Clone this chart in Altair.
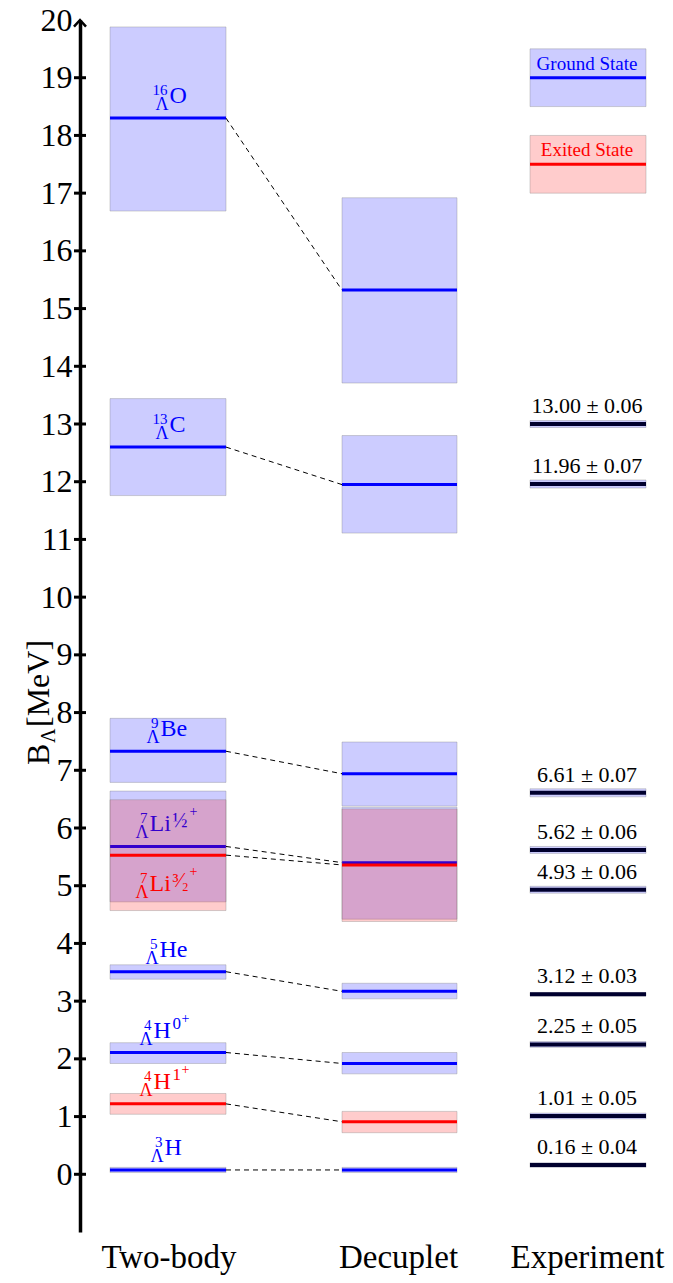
import altair as alt
import pandas as pd

# ---------------- data ----------------
isotopes = ["16O", "13C", "9Be", "7Li(1/2+)", "7Li(3/2+)", "5He", "4H(0+)", "4H(1+)", "3H"]
states = ["ground", "ground", "ground", "ground", "excited", "ground", "ground", "excited", "ground"]
mass_numbers = ["16", "13", "9", "7", "7", "5", "4", "4", "3"]
elements = ["O", "C", "Be", "Li", "Li", "He", "H", "H", "H"]
spins = ["", "", "", "½", "³⁄₂", "", "0", "1", ""]
parities = ["", "", "", "+", "+", "", "+", "+", ""]

two_body_B = [18.30, 12.60, 7.33, 5.68, 5.53, 3.51, 2.11, 1.22, 0.075]
two_body_lo = [16.69, 11.76, 6.79, 4.72, 4.57, 3.38, 1.92, 1.04, 0.03]
two_body_hi = [19.88, 13.44, 7.90, 6.64, 6.49, 3.63, 2.28, 1.40, 0.12]

decuplet_B = [15.32, 11.95, 6.94, 5.40, 5.36, 3.17, 1.92, 0.91, 0.075]
decuplet_lo = [13.71, 11.11, 6.38, 4.42, 4.38, 3.04, 1.74, 0.72, 0.03]
decuplet_hi = [16.92, 12.80, 7.49, 6.36, 6.33, 3.31, 2.11, 1.09, 0.12]

exp_B = [13.00, 11.96, 6.61, 5.62, 4.93, 3.12, 2.25, 1.01, 0.16]
exp_err = [0.06, 0.07, 0.07, 0.06, 0.06, 0.03, 0.05, 0.05, 0.04]

columns = ["Two-body", "Decuplet", "Experiment"]
y_ticks = list(range(0, 21))

legend_labels = ["Ground State", "Exited State"]
legend_states = ["ground", "excited"]
legend_B = [19.0, 17.5]
legend_half = [0.5, 0.5]

# ---------------- layout / style ----------------
FONT = "Liberation Serif"
BLUE, RED, NAVY = "#0000ff", "#ff0000", "#00002e"
COL = {"Two-body": (0.30, 1.46), "Decuplet": (2.62, 3.77), "Experiment": (4.50, 5.66)}
COL_LABEL_X = {"Two-body": 0.885, "Decuplet": 3.18, "Experiment": 5.07}
PX = 100.0  # pixels per x unit
label_shift_px = {"16O": 1, "13C": 1, "9Be": -8, "7Li(1/2+)": -19, "7Li(3/2+)": -19,
                  "5He": -9, "4H(0+)": -15, "4H(1+)": -15, "3H": -4}
elem_width_px = {"H": 18, "Li": 22}
label_below = {"7Li(3/2+)"}
# piece classes: font size, vertical offset from element baseline, alignment
PIECE = {
    "el": dict(fontSize=24, dy=0, align="left"),
    "mass": dict(fontSize=15, dy=-8, align="right"),
    "lam": dict(fontSize=18, dy=7, align="right"),
    "spin": dict(fontSize=17, dy=-9, align="left"),
    "frac": dict(fontSize=20, dy=-4, align="left"),
    "par": dict(fontSize=14, dy=-15, align="left"),
}

xs = alt.Scale(domain=[0, 5.85], nice=False, zero=False)
ys = alt.Scale(domain=[-1, 20], nice=False, zero=False)

expr = " : ".join([f"datum.value == {v} ? '{k}'" for k, v in COL_LABEL_X.items()]) + " : ''"
x_axis = alt.Axis(values=list(COL_LABEL_X.values()), labelExpr=expr, domain=False, ticks=False,
                  tickSize=0, labelPadding=35, labelBaseline="alphabetic", labelFontSize=33,
                  labelFont=FONT, labelColor="black", grid=False, title=None, labelFlush=False,
                  labelOverlap=False)
y_axis = alt.Axis(values=y_ticks, ticks=False, tickSize=0, labelPadding=8, labelFontSize=32,
                  labelFont=FONT, labelColor="black", domainColor="black", domainWidth=3.5,
                  grid=False, title=None, labelFlush=False, labelOverlap=False)


def X(f):
    return alt.X(f, type="quantitative", scale=xs, axis=x_axis)


def Y(f):
    return alt.Y(f, type="quantitative", scale=ys, axis=y_axis)


rows = []
for col, Bs, los, his in [("Two-body", two_body_B, two_body_lo, two_body_hi),
                          ("Decuplet", decuplet_B, decuplet_lo, decuplet_hi)]:
    for i, iso in enumerate(isotopes):
        rows.append(dict(column=col, isotope=iso, state=states[i], B=Bs[i], lo=los[i], hi=his[i],
                         x0=COL[col][0], x1=COL[col][1]))
levels = pd.DataFrame(rows)

# label pieces (superscript / subscript composition)
pieces = []
for i, iso in enumerate(isotopes):
    s = COL_LABEL_X["Two-body"] + label_shift_px[iso] / PX
    base = dict(isotope=iso, state=states[i], B=two_body_B[i], below=iso in label_below)
    pieces.append(dict(base, cls="mass", t=mass_numbers[i], lx=s - 2 / PX))
    pieces.append(dict(base, cls="lam", t="Λ", lx=s - 1 / PX))
    pieces.append(dict(base, cls="el", t=elements[i], lx=s))
    if spins[i]:
        w = elem_width_px.get(elements[i], 18)
        cls = "spin" if spins[i].isdigit() else "frac"
        pieces.append(dict(base, cls=cls, t=spins[i], lx=s + (w + 1) / PX))
        pw = 17 if cls == "frac" else 9
        pieces.append(dict(base, cls="par", t=parities[i], lx=s + (w + 1 + pw) / PX))
pieces = pd.DataFrame(pieces)

conn = pd.DataFrame(dict(isotope=isotopes, B1=two_body_B, B2=decuplet_B,
                         x0=COL["Two-body"][1], x1=COL["Decuplet"][0]))

exp = pd.DataFrame(dict(B=exp_B, err=exp_err))
exp["lo"] = exp["B"] - exp["err"]
exp["hi"] = exp["B"] + exp["err"]
exp["txt"] = [f"{b:.2f} ± {e:.2f}" for b, e in zip(exp_B, exp_err)]
exp["x0"], exp["x1"], exp["xc"] = COL["Experiment"][0], COL["Experiment"][1], COL_LABEL_X["Experiment"]

leg = pd.DataFrame(dict(label=legend_labels, state=legend_states, B=legend_B, half=legend_half))
leg["lo"] = leg["B"] - leg["half"]
leg["hi"] = leg["B"] + leg["half"]
leg["x0"], leg["x1"], leg["xc"] = COL["Experiment"][0], COL["Experiment"][1], COL_LABEL_X["Experiment"]

color_of = {"ground": BLUE, "excited": RED}
box_style = dict(fillOpacity=0.2, stroke="#808080", strokeOpacity=0.35, strokeWidth=1)


def label_layers(df, base_dy, color):
    out = []
    for cls, sty in PIECE.items():
        d = df[df.cls == cls]
        if len(d) == 0:
            continue
        out.append(alt.Chart(d).mark_text(align=sty["align"], baseline="alphabetic",
                                          dy=base_dy + sty["dy"], fontSize=sty["fontSize"],
                                          font=FONT, color=color).encode(
            x=X("lx"), y=Y("B"), text="t:N"))
    return out


layers = []
for st in ["ground", "excited"]:
    c = color_of[st]
    d = levels[levels.state == st]
    layers.append(alt.Chart(d).mark_rect(fill=c, **box_style).encode(
        x=X("x0"), x2="x1", y=Y("lo"), y2="hi"))
    layers.append(alt.Chart(d).mark_rule(color=c, strokeWidth=3).encode(
        x=X("x0"), x2="x1", y=Y("B")))
    ps = pieces[pieces.state == st]
    above = ps[~ps.below]
    below = ps[ps.below]
    if len(above):
        layers += label_layers(above, -15, c)
    if len(below):
        layers += label_layers(below, 36, c)

# connectors
layers.append(alt.Chart(conn).mark_rule(color="black", strokeWidth=1, strokeDash=[5, 4]).encode(
    x=X("x0"), x2="x1", y=Y("B1"), y2="B2"))

# experiment
layers.append(alt.Chart(exp).mark_rect(fill=BLUE, **box_style).encode(
    x=X("x0"), x2="x1", y=Y("lo"), y2="hi"))
layers.append(alt.Chart(exp).mark_rule(color=NAVY, strokeWidth=4).encode(
    x=X("x0"), x2="x1", y=Y("B")))
layers.append(alt.Chart(exp).mark_text(align="center", baseline="alphabetic", dy=-11, fontSize=22,
                                       font=FONT, color="black").encode(
    x=X("xc"), y=Y("B"), text="txt:N"))

# legend boxes
for st in ["ground", "excited"]:
    c = color_of[st]
    d = leg[leg.state == st]
    layers.append(alt.Chart(d).mark_rect(fill=c, **box_style).encode(
        x=X("x0"), x2="x1", y=Y("lo"), y2="hi"))
    layers.append(alt.Chart(d).mark_rule(color=c, strokeWidth=3).encode(
        x=X("x0"), x2="x1", y=Y("B")))
    layers.append(alt.Chart(d).mark_text(align="center", baseline="alphabetic", dy=-8, fontSize=19,
                                         font=FONT, color=c).encode(
        x=X("xc"), y=Y("B"), text="label:N"))

# axis cross ticks and arrow
tick_df = pd.DataFrame(dict(v=y_ticks[:-1]))
layers.append(alt.Chart(tick_df).mark_tick(orient="horizontal", size=12, thickness=3, color="black",
                                           opacity=1).encode(
    x=alt.X(datum=0, type="quantitative", scale=xs), y=Y("v")))
arrow_df = pd.DataFrame(dict(v=[y_ticks[-1]]))
layers.append(alt.Chart(arrow_df).mark_point(shape="M-1,1.1L0,0L1,1.1", size=144, filled=False,
                                             stroke="black", strokeWidth=2.5, opacity=1).encode(
    x=alt.X(datum=0, type="quantitative", scale=xs), y=Y("v")))

# y-axis title  B_Λ[MeV]
title_df = pd.DataFrame(dict(t=["B"]))
tbase = alt.Chart(title_df).encode(x=alt.value(-31), y=alt.value(745))
layers.append(tbase.mark_text(angle=270, align="left", baseline="alphabetic", fontSize=32, font=FONT,
                              color="black").encode(text=alt.value("B")))
layers.append(tbase.mark_text(angle=270, align="left", baseline="alphabetic", fontSize=20, font=FONT,
                              dx=22, dy=6, color="black").encode(text=alt.value("Λ")))
layers.append(tbase.mark_text(angle=270, align="left", baseline="alphabetic", fontSize=32, font=FONT,
                              dx=38, color="black").encode(text=alt.value("[MeV]")))

chart = alt.layer(*layers).properties(
    width=585, height=1212,
    padding={"left": 72, "top": 12, "right": 0, "bottom": 43},
    autosize=alt.AutoSizeParams(type="none"),
).configure_view(stroke=None)

chart.save("out.html", embed_options={"renderer": "svg", "actions": False})
